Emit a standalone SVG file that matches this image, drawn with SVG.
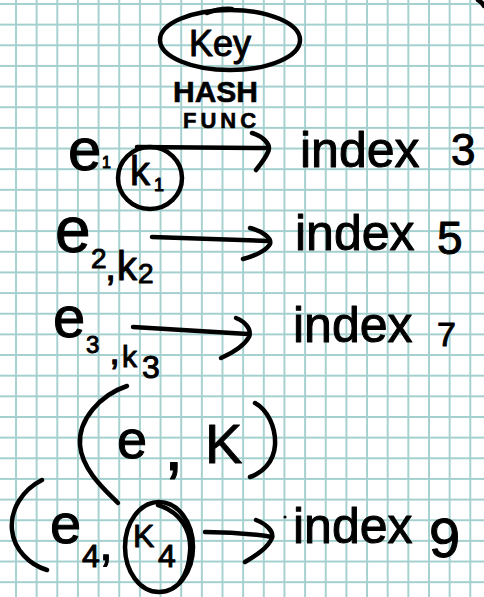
<svg xmlns="http://www.w3.org/2000/svg" width="484" height="597" viewBox="0 0 484 597">
<style>
.t{font-family:"Liberation Sans",Arial,sans-serif;fill:#000;stroke:#000;stroke-width:1;stroke-linejoin:round}
.b{font-weight:bold;stroke-width:0.6}
.s{fill:none;stroke:#000;stroke-width:4.5;stroke-linecap:round;stroke-linejoin:round}
</style>
<defs>
<pattern id="grid" x="15" y="3" width="20.65" height="20.65" patternUnits="userSpaceOnUse">
<path d="M1,0V20.65M0,1H20.65" fill="none" stroke="#a3d0ce" stroke-width="1.9"/>
</pattern>
</defs>
<rect width="484" height="597" fill="#fff"/>
<rect width="484" height="597" fill="url(#grid)"/>
<path class="s" d="M478,0 Q483,3 484,6" stroke-width="3"/>

<g id="key">
<ellipse class="s" cx="230" cy="40" rx="70" ry="30"/>
<path class="s" d="M207,13 Q220,8 232,9"/>
<text class="t" x="220" y="56" font-size="36" text-anchor="middle">Key</text>
</g>

<g id="hash-func">
<text class="t b" x="173" y="102" font-size="30">HASH</text>
<text class="t b" x="183" y="128" font-size="22" letter-spacing="4">FUNC</text>
</g>

<g id="pair1">
<text class="t" x="68" y="170" font-size="60">e</text>
<text class="t" x="102" y="168" font-size="16">1</text>
<ellipse class="s" cx="150" cy="178" rx="32" ry="31"/>
<text class="t" x="130" y="185" font-size="40">k</text>
<text class="t" x="154" y="191" font-size="18">1</text>
</g>
<g id="index3">
<text class="t" x="300" y="167" font-size="50">index</text>
<text class="t" x="451" y="165" font-size="44">3</text>
</g>

<g id="pair2">
<text class="t" x="55" y="252" font-size="64">e</text>
<text class="t" x="91" y="268" font-size="28">2</text>
<text class="t" x="105" y="280" font-size="40">,</text>
<text class="t" x="117" y="280" font-size="40">k</text>
<text class="t" x="138" y="283" font-size="28">2</text>
</g>
<g id="index5">
<text class="t" x="295" y="250" font-size="50">index</text>
<text class="t" x="437" y="254" font-size="46">5</text>
</g>

<g id="pair3">
<text class="t" x="53" y="337" font-size="58">e</text>
<text class="t" x="86" y="353" font-size="24">3</text>
<text class="t" x="109" y="364" font-size="40">,</text>
<text class="t" x="122" y="367" font-size="30">k</text>
<text class="t" x="142" y="378" font-size="32">3</text>
</g>
<g id="index7">
<text class="t" x="293" y="342" font-size="50">index</text>
<text class="t" x="437" y="346" font-size="34">7</text>
</g>

<g id="pair-ek">
<path class="s" d="M127,386 C100,395 78,420 80,445 C82,470 105,490 118,503"/>
<text class="t" x="117" y="458" font-size="54">e</text>
<text class="t" x="164" y="470" font-size="70">,</text>
<text class="t" x="205" y="463" font-size="56">K</text>
<path class="s" d="M255,403 C268,410 276,428 275,445 C274,462 262,473 250,477"/>
</g>

<g id="pair4">
<path class="s" d="M42,480 C22,490 10,510 12,530 C14,550 30,565 47,570"/>
<text class="t" x="50" y="543" font-size="56">e</text>
<text class="t" x="82" y="567" font-size="32">4</text>
<text class="t" x="99" y="560" font-size="50">,</text>
<ellipse class="s" cx="159" cy="547" rx="34" ry="45"/>
<path class="s" d="M158,505 C180,512 192,530 190,552 C189,566 185,576 180,582"/>
<text class="t" x="133" y="547" font-size="32">K</text>
<text class="t" x="158" y="567" font-size="32">4</text>
</g>
<g id="index9">
<circle cx="285" cy="517" r="1.6" fill="#000"/>
<text class="t" x="293" y="543" font-size="50">index</text>
<text class="t" x="429" y="557" font-size="56">9</text>
</g>

<g id="connectors">
<path class="s" d="M137,147 L267,148"/>
<path class="s" d="M252,133 C262,136 272,144 268,152 C265,159 260,165 256,170"/>
<path class="s" d="M152,237 L268,241"/>
<path class="s" d="M250,228 C262,231 272,238 270,244 C267,250 255,256 243,259"/>
<path class="s" d="M133,327 L248,334"/>
<path class="s" d="M236,318 C246,322 252,330 249,337 C244,346 230,354 221,358"/>
<path class="s" d="M205,532 Q240,532 272,537"/>
<path class="s" d="M256,520 C266,524 274,531 272,538 C268,548 255,556 245,562"/>
</g>
</svg>
